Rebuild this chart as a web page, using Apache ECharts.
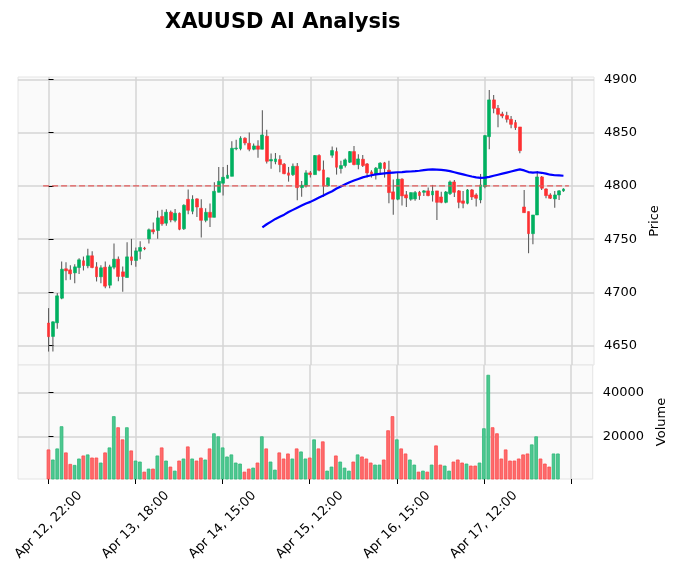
<!DOCTYPE html>
<html><head><meta charset="utf-8">
<script src="https://cdn.jsdelivr.net/npm/echarts@6/dist/echarts.min.js"></script>
<style>html,body{margin:0;padding:0;background:#fff}#c{width:676px;height:576px}</style>
</head><body><div id="c"></div>
<script>
const titleText = 'XAUUSD AI Analysis';
const opens = [4671.3,4658.7,4671.5,4694.6,4722.2,4721.2,4718.4,4723.4,4729.7,4725.0,
4734.4,4724.0,4714.7,4723.7,4706.8,4723.7,4731.2,4719.3,4714.0,4733.4,
4730.0,4738.7,4741.6,4750.3,4758.8,4758.1,4771.3,4765.0,4775.3,4767.7,
4774.3,4759.8,4787.4,4776.2,4787.8,4779.0,4767.7,4775.2,4770.5,4794.0,
4802.5,4807.1,4809.0,4834.9,4835.0,4844.7,4840.0,4834.4,4837.5,4834.4,
4846.6,4823.4,4822.8,4824.7,4820.3,4812.2,4810.6,4818.4,4798.4,4800.0,
4812.2,4810.6,4828.5,4815.0,4800.0,4828.8,4832.2,4816.3,4819.1,4822.2,
4832.2,4820.0,4825.0,4820.6,4813.1,4811.0,4816.3,4821.6,4814.7,4794.4,
4787.5,4806.3,4791.6,4787.5,4787.8,4794.0,4794.0,4795.3,4791.5,4795.3,
4789.6,4784.6,4792.8,4803.7,4795.3,4785.9,4783.7,4796.2,4791.5,4786.8,
4799.3,4846.2,4880.7,4872.8,4867.5,4866.0,4862.5,4859.4,4855.3,4780.2,
4775.9,4755.2,4772.7,4808.4,4797.1,4791.5,4787.8,4791.5,4795.3];
const closes = [4658.5,4672.4,4696.8,4721.8,4720.3,4717.5,4724.0,4730.6,4725.3,4734.4,
4723.4,4714.7,4723.1,4705.9,4724.0,4731.2,4715.0,4715.0,4733.4,4730.0,
4739.0,4742.2,4741.0,4758.8,4756.9,4770.0,4764.4,4775.3,4768.0,4774.3,
4759.3,4781.8,4777.1,4787.4,4780.2,4767.7,4775.2,4770.5,4794.9,4804.3,
4808.1,4810.0,4835.3,4835.5,4844.7,4840.3,4834.4,4837.5,4834.4,4847.8,
4823.1,4824.7,4825.3,4820.0,4811.5,4810.0,4818.4,4798.4,4800.6,4812.2,
4810.6,4828.5,4814.7,4800.0,4807.5,4833.2,4817.5,4819.1,4824.4,4832.2,
4820.0,4825.3,4819.1,4812.2,4811.0,4816.6,4821.3,4816.3,4793.7,4787.5,
4806.3,4790.6,4788.7,4793.7,4793.7,4790.9,4795.3,4790.9,4795.0,4784.6,
4784.6,4794.3,4803.7,4794.0,4784.6,4783.7,4796.2,4789.6,4788.4,4800.9,
4847.2,4880.7,4872.8,4867.2,4865.6,4862.5,4857.8,4854.7,4833.1,4774.9,
4755.2,4772.7,4808.4,4797.8,4790.9,4788.4,4791.5,4795.3,4797.1];
const lows = [4644.5,4644.5,4666.0,4693.7,4711.5,4711.8,4708.7,4717.2,4720.6,4722.8,
4722.8,4710.3,4708.7,4704.0,4704.0,4721.8,4710.6,4700.6,4714.0,4725.6,
4724.0,4731.2,4739.7,4746.0,4754.7,4750.3,4762.5,4762.5,4765.9,4765.9,
4758.4,4758.5,4773.4,4773.4,4770.9,4751.5,4765.9,4761.5,4770.5,4794.0,
4790.9,4807.1,4809.0,4833.4,4833.4,4838.1,4832.5,4833.4,4826.5,4834.4,
4820.9,4816.2,4820.3,4812.8,4810.9,4804.0,4809.3,4786.5,4789.7,4798.4,
4807.8,4810.6,4813.8,4789.7,4799.4,4826.3,4810.6,4811.6,4817.2,4821.6,
4819.4,4815.6,4817.8,4807.8,4807.8,4806.0,4811.6,4807.8,4783.7,4772.8,
4786.6,4781.5,4780.3,4786.0,4786.0,4786.9,4790.6,4790.3,4785.3,4768.0,
4783.7,4783.7,4791.5,4789.6,4779.0,4779.0,4782.7,4786.8,4780.6,4783.7,
4797.8,4834.4,4868.1,4855.0,4863.5,4859.4,4854.0,4852.5,4830.6,4774.9,
4736.8,4745.2,4772.7,4796.2,4788.4,4787.8,4779.6,4786.8,4794.4];
const highs = [4685.3,4673.0,4699.5,4729.0,4728.4,4725.6,4726.5,4732.2,4733.7,4741.0,
4738.7,4728.4,4725.6,4729.0,4725.9,4746.0,4733.7,4724.3,4747.2,4750.3,
4742.2,4748.0,4742.8,4760.0,4765.6,4776.6,4777.5,4778.0,4777.0,4778.4,
4775.0,4782.7,4796.5,4791.2,4788.4,4787.4,4779.0,4783.4,4803.4,4817.8,
4817.8,4819.7,4841.9,4843.4,4846.6,4845.6,4850.0,4839.7,4842.8,4871.0,
4852.8,4830.3,4830.9,4828.7,4821.5,4817.8,4820.9,4821.5,4804.7,4814.7,
4814.0,4829.1,4829.7,4823.8,4808.1,4836.9,4836.0,4823.5,4825.6,4832.8,
4837.5,4829.7,4829.1,4821.6,4814.7,4817.8,4822.2,4822.5,4823.5,4806.0,
4812.5,4807.2,4795.3,4793.7,4795.3,4795.3,4796.2,4798.4,4800.9,4795.3,
4794.6,4795.3,4805.0,4805.6,4796.2,4795.3,4797.1,4797.1,4793.1,4811.2,
4847.8,4890.0,4885.3,4876.0,4869.7,4869.7,4865.6,4861.9,4855.3,4796.2,
4775.9,4772.7,4814.0,4809.3,4797.8,4793.1,4795.3,4796.2,4797.8];
const volumes = [14245,9700,14700,24700,12900,7730,7270,10150,11520,12000,
10600,10600,8340,12900,15150,29240,24240,18790,24240,13790,
9240,8790,4240,5610,5610,11520,15150,9240,6520,4700,
9240,10150,15600,10150,9240,10600,9700,14700,21520,20150,
15150,11060,12000,8340,7880,4240,5610,6060,8340,20150,
14700,8790,5150,12900,10150,12420,10150,14700,13330,10150,
10600,18790,14700,17880,4700,6520,11520,8790,6060,4700,
8790,12000,11060,10150,8340,7420,7420,9700,22880,29240,
18790,14700,12420,9700,7420,4240,4700,4240,7420,16060,
7420,6970,4700,8790,9700,8340,7880,6970,6970,8340,
23790,47880,24240,21520,10150,14240,9240,9240,10150,12000,
12420,16520,20150,10150,7880,6520,12420,12420,1000];
// moving average line, starting at candle 49
const maStart = 49;
const maValues = [4761,4764,4766.5,4769,4771,4773,4775.5,4777.5,4779.5,4781.5,
4783.5,4785,4787,4789,4791,4793,4795,4797.5,4799.5,4801.5,
4803.5,4805,4806.5,4808,4809,4810,4810.8,4811.3,4811.8,4812.2,
4812.5,4812.8,4813,4813.3,4813.5,4813.8,4814.2,4814.8,4815.3,4815.5,
4815.3,4815,4814.5,4813.8,4812.8,4811.8,4810.8,4809.8,4808.8,4808,
4807.5,4807.8,4808.5,4809.5,4810.5,4811.5,4812.5,4813.5,4814.5,4815.5,
4814.5,4813,4812.5,4812.8,4812.3,4811.5,4810.5,4810,4809.8,4809.5];
const hlineValue = 4800;
const xTickIdx = [0,20,40,60,80,100,120];
const xTickLabels = ['Apr 12, 22:00','Apr 13, 18:00','Apr 14, 15:00','Apr 15, 12:00','Apr 16, 15:00','Apr 17, 12:00',''];
const priceTicks = [4650,4700,4750,4800,4850,4900];
const volumeTicks = [20000,40000];

const n = opens.length;
const UP = '#00b060', DOWN = '#fe3032', VUP = '#4dc790', VDOWN = '#fd6b6c';
const FONT = 'DejaVu Sans';

const wickData = [], bodyData = [], volData = [], maData = [];
for (let i = 0; i < n; i++) {
  wickData.push([i, lows[i], highs[i]]);
  bodyData.push([i, opens[i], closes[i], Math.min(opens[i], closes[i]), Math.max(opens[i], closes[i])]);
  const up = closes[i] > opens[i];
  volData.push({value: [i, volumes[i]], itemStyle: {color: up ? VUP : VDOWN, borderColor: up ? '#2fb97a' : '#fd4b4c'}});
}
for (let k = 0; k < maValues.length; k++) maData.push([maStart + k, maValues[k]]);

const gridLine = {show: true, lineStyle: {color: '#d4d4d4', width: 1.5}};
const xMin = -7, xMax = n + 6;
const plain = v => String(v);

const option = {
  animation: false,
  backgroundColor: '#ffffff',
  title: {text: titleText, left: 160, top: 7,
    textStyle: {fontFamily: FONT, fontWeight: 'bold', fontSize: 21, color: '#000'}},
  grid: [
    {left: 18, top: 77, width: 576, height: 288, show: true, backgroundColor: '#fafafa', borderColor: '#e4e4e4', borderWidth: 1},
    {left: 18, top: 365, width: 576, height: 114, show: true, backgroundColor: '#fafafa', borderColor: '#e4e4e4', borderWidth: 1}
  ],
  xAxis: [
    {type: 'value', gridIndex: 0, min: xMin, max: xMax,
      axisLine: {show: false}, axisTick: {show: false, customValues: xTickIdx},
      axisLabel: {show: false, customValues: xTickIdx}, splitLine: gridLine},
    {type: 'value', gridIndex: 1, min: xMin, max: xMax,
      axisLine: {show: false},
      axisTick: {show: true, length: 5, inside: false, customValues: xTickIdx, lineStyle: {color: '#000', width: 1}},
      axisLabel: {show: true, customValues: xTickIdx, rotate: 45, align: 'center', verticalAlign: 'middle', margin: 46,
        fontFamily: FONT, fontSize: 13, color: '#000',
        formatter: v => xTickLabels[xTickIdx.indexOf(Math.round(v))] || ''},
      splitLine: gridLine}
  ],
  yAxis: [
    {type: 'value', gridIndex: 0, position: 'right', min: 4631.9, max: 4902.2,
      name: 'Price', nameLocation: 'middle', nameRotate: 90, nameGap: 41,
      nameTextStyle: {fontFamily: FONT, fontSize: 13, color: '#000'},
      axisLine: {show: false},
      axisTick: {show: true, length: 5, customValues: priceTicks, lineStyle: {color: '#000', width: 1}},
      axisLabel: {customValues: priceTicks, margin: 10, fontFamily: FONT, fontSize: 13, color: '#000', formatter: plain},
      splitLine: gridLine},
    {type: 'value', gridIndex: 1, position: 'right', min: 946, max: 52300,
      name: 'Volume', nameLocation: 'middle', nameRotate: 90, nameGap: 53,
      nameTextStyle: {fontFamily: FONT, fontSize: 13, color: '#000'},
      axisLine: {show: false},
      axisTick: {show: true, length: 5, customValues: volumeTicks, lineStyle: {color: '#000', width: 1}},
      axisLabel: {customValues: volumeTicks, margin: 10, fontFamily: FONT, fontSize: 13, color: '#000', formatter: plain},
      splitLine: gridLine}
  ],
  series: [
    {type: 'custom', xAxisIndex: 0, yAxisIndex: 0, data: wickData, encode: {x: 0, y: [1, 2]}, z: 2,
      renderItem: (params, api) => {
        const p1 = api.coord([api.value(0), api.value(1)]);
        const p2 = api.coord([api.value(0), api.value(2)]);
        return {type: 'line', shape: {x1: p1[0], y1: p1[1], x2: p2[0], y2: p2[1]},
          style: {stroke: '#606060', lineWidth: 1.1}};
      }},
    {type: 'candlestick', xAxisIndex: 0, yAxisIndex: 0, data: bodyData, encode: {x: 0, y: [1, 2, 3, 4]}, z: 3,
      barWidth: 3.4,
      itemStyle: {color: UP, color0: DOWN, borderColor: UP, borderColor0: DOWN, borderWidth: 0.6}},
    {type: 'line', xAxisIndex: 0, yAxisIndex: 0, data: maData, showSymbol: false, z: 4,
      lineStyle: {color: '#0000ff', width: 2.2}},
    {type: 'line', xAxisIndex: 0, yAxisIndex: 0, showSymbol: false, z: 4,
      data: [[-1.25, hlineValue], [n - 1 + 1.25, hlineValue]],
      lineStyle: {color: '#e25a5a', width: 1.2, type: [6, 3]}},
    {type: 'bar', xAxisIndex: 1, yAxisIndex: 1, data: volData, barWidth: 3.6,
      itemStyle: {borderWidth: 0.8}}
  ]
};
echarts.init(document.getElementById('c')).setOption(option);
</script>
</body></html>
